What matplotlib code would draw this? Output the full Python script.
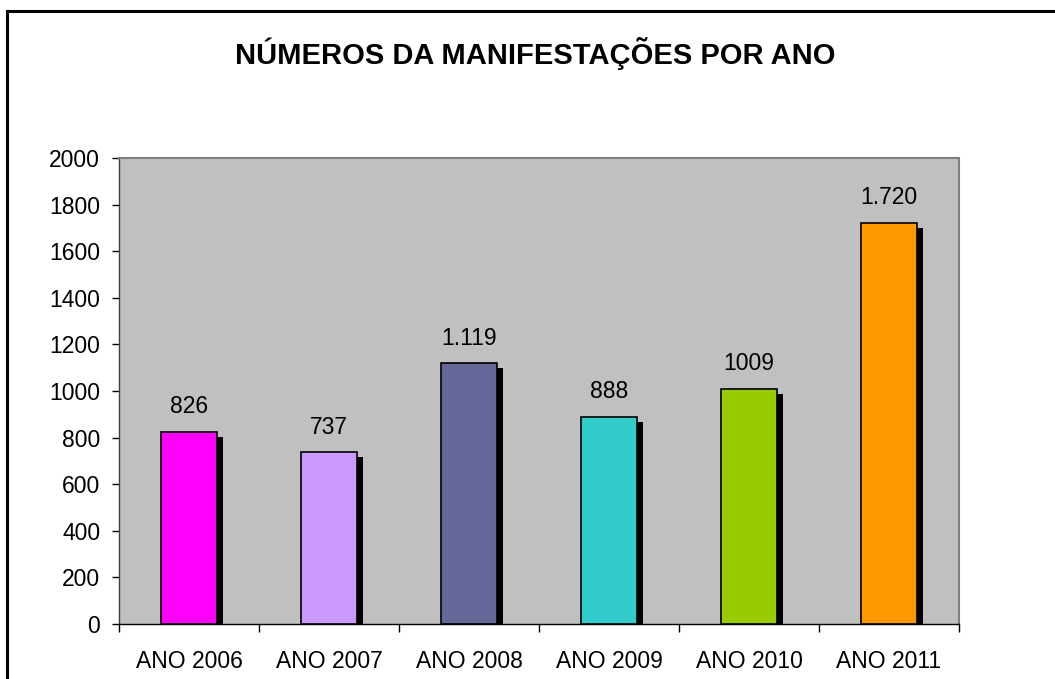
import matplotlib
matplotlib.use("Agg")
import matplotlib.pyplot as plt
from matplotlib.lines import Line2D

plt.rcParams['font.family'] = ['Liberation Sans', 'DejaVu Sans']

categories = ["ANO 2006", "ANO 2007", "ANO 2008", "ANO 2009", "ANO 2010", "ANO 2011"]
values = [826, 737, 1119, 888, 1009, 1720]
value_labels = ["826", "737", "1.119", "888", "1009", "1.720"]
colors = ["#FF00FF", "#CC99FF", "#666699", "#33CCCC", "#99CC00", "#FF9900"]
title = "NÚMEROS DA MANIFESTAÇÕES POR ANO"

W, H = 1055, 679
fig = plt.figure(figsize=(W / 100, H / 100), dpi=100)
ax = fig.add_axes([119 / W, 1 - 624 / H, 840 / W, 466 / H])
ax.set_facecolor("#C0C0C0")

x = list(range(len(categories)))
bw = 0.4
# shadow offsets (in data units)
dx = 6 / 140
dy = 5 * 2000 / 466
ax.bar([i + dx for i in x], [v - dy for v in values], width=bw, color="black",
       edgecolor="none", zorder=2)
ax.bar(x, values, width=bw, color=colors, edgecolor="black", linewidth=1.2, zorder=3)

for i, (v, lab) in enumerate(zip(values, value_labels)):
    ax.annotate(lab, (i, v), xytext=(0, 13.5), textcoords="offset points",
                ha="center", va="baseline", fontsize=16.5, color="black")

ax.set_xlim(-0.5, len(categories) - 0.5)
ax.set_ylim(0, 2000)
ax.set_yticks(range(0, 2001, 200))
ax.set_xticks(x)
ax.set_xticklabels(categories, fontsize=16.5)
ax.set_xticks([i - 0.5 for i in range(len(categories) + 1)], minor=True)
ax.tick_params(axis="x", which="major", length=0, pad=19)
ax.tick_params(axis="x", which="minor", length=6, width=1, color="black", direction="out")
ax.tick_params(axis="y", length=5, width=1, color="black", pad=8.5, labelsize=16.5)

for s in ["top", "right"]:
    ax.spines[s].set_color("#808080")
    ax.spines[s].set_linewidth(1.5)
ax.spines["left"].set_color("#404040")
ax.spines["bottom"].set_color("black")
ax.spines["left"].set_linewidth(1)
ax.spines["bottom"].set_linewidth(1)

fig.text(535 / W, 1 - 53 / H, title, ha="center", va="center",
         fontsize=21, fontweight="bold")

# outer frame (right and bottom edges lie outside the image)
fig.add_artist(Line2D([7 / W, 1.0], [1 - 11 / H, 1 - 11 / H], transform=fig.transFigure,
                      color="black", linewidth=2.2))
fig.add_artist(Line2D([7 / W, 7 / W], [0, 1 - 11 / H], transform=fig.transFigure,
                      color="black", linewidth=2.2))

fig.savefig("out.png", dpi=100)
